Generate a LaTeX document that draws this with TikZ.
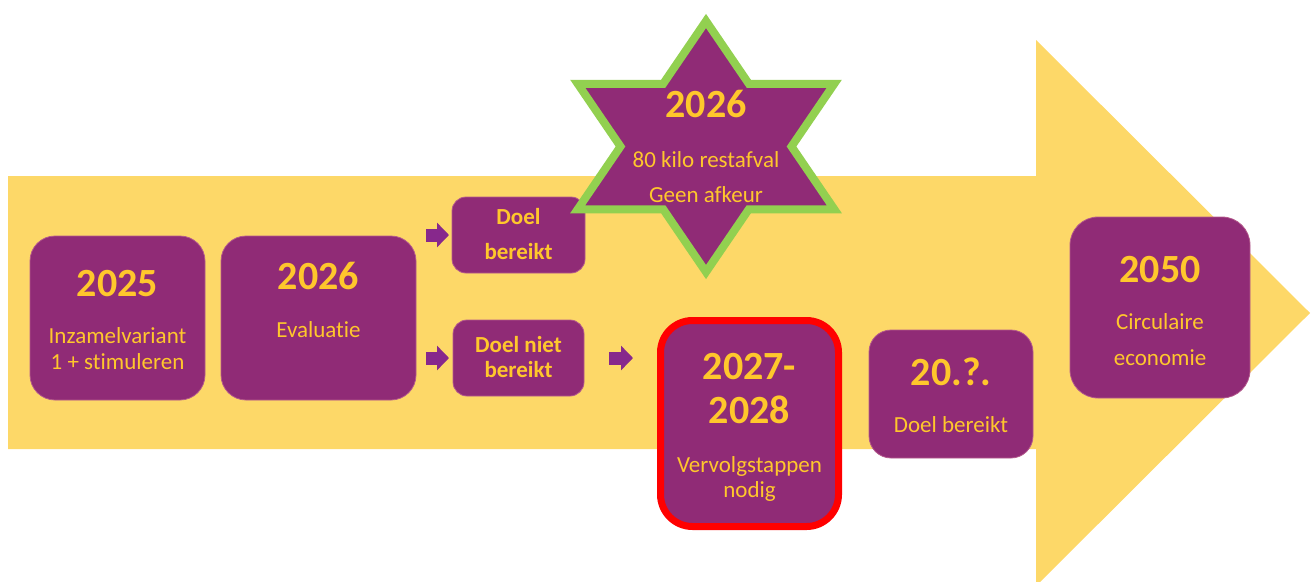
\documentclass[tikz,border=0pt]{standalone}
\usepackage{fontspec}
\setmainfont{Carlito}[Ligatures={NoCommon,NoContextual}]
\usetikzlibrary{arrows.meta}
\definecolor{bgyel}{RGB}{253,216,104}
\definecolor{pur}{RGB}{144,43,118}
\definecolor{gold}{RGB}{255,199,44}
\definecolor{grn}{RGB}{146,208,80}
\definecolor{arrpur}{RGB}{135,40,140}
\definecolor{boxedge}{RGB}{180,90,140}
\begin{document}
\begin{tikzpicture}[x=1pt,y=-1pt,
  box/.style={fill=pur, draw=boxedge, line width=0.8pt, inner sep=0pt, outer sep=0pt},
  yr/.style={anchor=base, text=gold, font=\bfseries\fontsize{40}{40}\selectfont, inner sep=0pt},
  lbl/.style={anchor=base, text=gold, font=\fontsize{23}{23}\selectfont, inner sep=0pt},
  blbl/.style={anchor=base, text=gold, font=\bfseries\fontsize{23}{23}\selectfont, inner sep=0pt},
  blk/.style={draw=arrpur, line width=13pt, -{Triangle[length=12pt,width=24pt]}},
]
\path[use as bounding box] (0,0) rectangle (1314,581);
\clip (0,0) rectangle (1314,581);
% big timeline arrow
\fill[bgyel] (8,176) -- (1036,176) -- (1036,40) -- (1310,313) -- (1036,586) -- (1036,449) -- (8,449) -- cycle;

% boxes
\node[box, rounded corners=25pt, minimum width=175pt, minimum height=164pt] (b1) at (117.5,318) {};
\node[box, rounded corners=25pt, minimum width=195pt, minimum height=164pt] (b2) at (318.5,318) {};
\node[box, rounded corners=14pt, minimum width=133pt, minimum height=76pt] (doel) at (518.5,235) {};
\node[box, rounded corners=14pt, minimum width=131pt, minimum height=76pt] (dnb) at (518.5,358) {};
\node[fill=pur, draw=red, line width=7pt, rounded corners=32pt, inner sep=0pt, outer sep=0pt,
      minimum width=178pt, minimum height=206pt] (b27) at (749.5,423.5) {};
\node[box, rounded corners=22pt, minimum width=164pt, minimum height=128pt] (b20) at (951,394) {};
\node[box, rounded corners=28pt, minimum width=180pt, minimum height=181pt] (b50) at (1160,307.5) {};

% star
\draw[fill=pur, draw=grn, line width=8pt, miter limit=10]
  (706,21) -- (748.8,83.75) -- (834.3,83.75) -- (791.5,146.5) -- (834.3,209.25)
  -- (748.8,209.25) -- (706,272) -- (663.2,209.25) -- (577.7,209.25)
  -- (620.5,146.5) -- (577.7,83.75) -- (663.2,83.75) -- cycle;
\coordinate (star) at (706,146.5);

% small block arrows
\draw[blk] ([xshift=-26pt]doel.west) -- ([xshift=-3pt]doel.west);
\draw[blk] ([xshift=-27pt]dnb.west) -- ([xshift=-4pt]dnb.west);
\draw[blk] ([xshift=25pt]dnb.east) -- ([xshift=49pt]dnb.east);

% texts
\node[yr] (t1a) at (117.5,296) {2025};
\node[lbl] (t1b) at (117.5,343) {Inzamelvariant};
\node[lbl] (t1c) at (117.5,369) {1 + stimuleren};

\node[yr] (t2a) at (318.5,289) {2026};
\node[lbl] (t2b) at (318.5,337) {Evaluatie};

\node[blbl] (t3a) at (518.5,224) {Doel};
\node[blbl] (t3b) at (518.5,259) {bereikt};

\node[blbl] (t4a) at (518.5,352) {Doel niet};
\node[blbl] (t4b) at (518.5,377) {bereikt};

\node[yr] (t5a) at (706,117) {2026};
\node[lbl] (t5b) at (706,167) {80 kilo restafval};
\node[lbl] (t5c) at (706,202) {Geen afkeur};

\node[yr] (t6a) at (749.5,379) {2027-};
\node[yr] (t6b) at (749.5,423) {2028};
\node[lbl] (t6c) at (749.5,472) {Vervolgstappen};
\node[lbl] (t6d) at (749.5,497) {nodig};

\node[yr] (t7a) at (951,385) {20.?.};
\node[lbl] (t7b) at (951,432) {Doel bereikt};

\node[yr] (t8a) at (1160,282) {2050};
\node[lbl] (t8b) at (1160,329) {Circulaire};
\node[lbl] (t8c) at (1160,365) {economie};
\end{tikzpicture}
\end{document}
